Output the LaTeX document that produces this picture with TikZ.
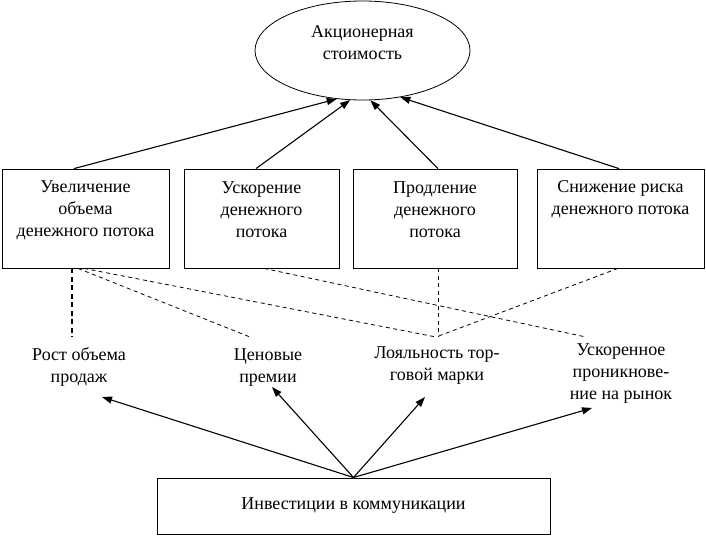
\documentclass[tikz,border=0pt]{standalone}
\usepackage{fontspec}
\setmainfont{Liberation Serif}
\usetikzlibrary{arrows.meta,shapes.geometric,calc}
\begin{document}
\begin{tikzpicture}[x=1pt,y=1pt,
  txt/.style={font=\fontsize{18}{22}\selectfont, align=center, inner sep=0pt},
  card/.style={draw, line width=0.8pt, minimum width=#1, minimum height=99pt, inner sep=0pt},
  uparrow/.style={-{Triangle[length=10pt,width=7pt]}, line width=1.1pt},
  dsh/.style={dash pattern=on 4pt off 3.5pt, line width=0.8pt},
  dshb/.style={dash pattern=on 5pt off 3.5pt, line width=1.6pt}]
\useasboundingbox (0,0) rectangle (706,536);

% top ellipse
\node[draw, ellipse, line width=0.8pt, minimum width=215pt, minimum height=99pt, inner sep=0pt] (ell) at (362.5,485.5) {};
\node[txt] (elltxt) at (362.5,493) {Акционерная\\стоимость};

% boxes
\node[card=167pt] (b1) at (85.5,317.5) {};
\node[card=155pt] (b2) at (261.5,317.5) {};
\node[card=164pt] (b3) at (435,317.5) {};
\node[card=167pt] (b4) at (620.5,317.5) {};
\node[txt] (b1t) at (85.5,326) {Увеличение\\объема\\денежного потока};
\node[txt] (b2t) at (261.5,326) {Ускорение\\денежного\\потока};
\node[txt] (b3t) at (435,326) {Продление\\денежного\\потока};
\node[txt] (b4t) at (620.5,337) {Снижение риска\\денежного потока};

% labels
\node[txt] (l1) at (79,169.5) {Рост объема\\продаж};
\node[txt] (l2) at (268,168.5) {Ценовые\\премии};
\node[txt] (l3) at (437,170.5) {Лояльность тор-\\говой марки};
\node[txt] (l4) at (621,162.5) {Ускоренное\\проникнове-\\ние на рынок};

% bottom box
\node[draw, line width=1pt, minimum width=393pt, minimum height=56pt, inner sep=0pt, txt] (inv) at (353.5,30) {Инвестиции в коммуникации};

% arrows to ellipse
\draw[uparrow] ([xshift=-11.5pt]b1.north) -- (ell.242);
\draw[uparrow] ([xshift=-5.5pt]b2.north) -- (ell.256);
\draw[uparrow] ([xshift=3pt]b3.north) -- (ell.279);
\draw[uparrow] ([xshift=-1.5pt]b4.north) -- (ell.309);

% arrows from bottom box
\draw[uparrow] (inv.north) -- ($(l1.center)+(23,-30.5)$);
\draw[uparrow] (inv.north) -- ($(l2.center)+(4,-19.5)$);
\draw[uparrow] (inv.north) -- ($(l3.center)+(-12,-31.5)$);
\draw[uparrow] (inv.north) -- ($(l4.center)+(-29,-34.5)$);

% dashed links
\draw[dshb] ([xshift=-13.5pt]b1.south) -- ($(l1.center)+(-7,29.5)$);
\draw[dsh] ([xshift=-7.5pt]b1.south) -- ($(l2.center)+(-18,30.5)$);
\draw[dsh] ([xshift=-1.5pt]b1.south) -- ($(l3.center)+(-1,28.5)$);
\draw[dsh] ([xshift=2.5pt]b2.south) -- ($(l4.center)+(-35,36.5)$);
\draw[dsh] ([xshift=3pt]b3.south) -- ($(l3.center)+(1,28.5)$);
\draw[dsh] ([xshift=-2.5pt]b4.south) -- ($(l3.center)+(-1,28.5)$);
\end{tikzpicture}
\end{document}
